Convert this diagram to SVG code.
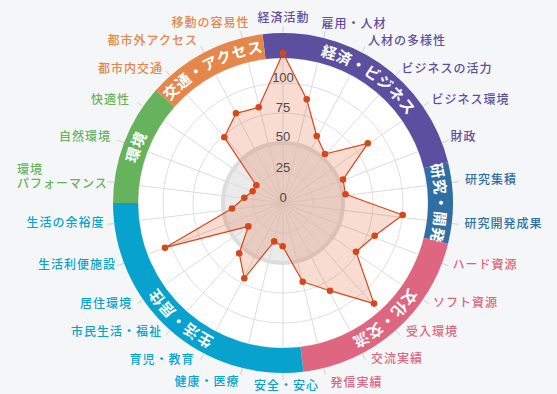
<svg xmlns="http://www.w3.org/2000/svg" width="557" height="394" viewBox="0 0 557 394">
<style>
.grid{fill:none;stroke:#dfdfdf;stroke-width:1}
.spoke{stroke:#dcdcdc;stroke-width:1}
.tick{stroke:#cfcfcf;stroke-width:1}
.scale{font-family:"Liberation Sans",Arial,sans-serif;font-size:13px;fill:#4a4a4a;text-anchor:middle}
.lbl{font-family:"Noto Sans CJK JP","Noto Sans",sans-serif;font-size:12px;font-weight:500;letter-spacing:1px}
.band-t{font-family:"Noto Sans CJK JP","Noto Sans",sans-serif;font-size:15px;font-weight:bold;fill:#ffffff;letter-spacing:0.5px}
.s{text-anchor:start}.e{text-anchor:end}.m{text-anchor:middle}
.econ{fill:#5d4f9f}.rnd{fill:#2f6fa5}.cult{fill:#de6680}.life{fill:#08a2cf}.env{fill:#67b35d}.trans{fill:#e5874b}
.dot{fill:#d4481c}
</style>
<defs>
<path id="pEcon" d="M242.67,56.45 A152,152 0 0 1 434.33,188.74"/>
<path id="pRnd" d="M380.70,86.56 A152,152 0 0 1 380.70,319.44"/>
<path id="pCult" d="M434.95,198.92 A152,152 0 0 1 260.63,353.34"/>
<path id="pLife" d="M305.37,353.34 A152,152 0 0 1 131.05,198.92"/>
<path id="pEnv" d="M150.35,277.22 A152,152 0 0 1 232.93,59.48"/>
<path id="pTrans" d="M134.49,170.60 A152,152 0 0 1 340.70,62.38"/>
</defs>
<rect x="0" y="0" width="557" height="394" fill="#f5f6f8"/>

<g id="grid">
<circle cx="283" cy="203" r="145" fill="#ffffff" stroke="#dddddd" stroke-width="1"/>
<circle cx="283" cy="203" r="60" fill="#ebebeb" stroke="#dcdcdc" stroke-width="4"/>
<circle class="grid" cx="283" cy="203" r="30"/>
<circle class="grid" cx="283" cy="203" r="90"/>
<circle class="grid" cx="283" cy="203" r="120"/>
<g id="spokes">
<line class="spoke" x1="283" y1="58" x2="283" y2="348"/>
<line class="spoke" x1="317.70" y1="62.21" x2="248.30" y2="343.79"/>
<line class="spoke" x1="350.38" y1="74.61" x2="215.62" y2="331.39"/>
<line class="spoke" x1="379.15" y1="94.47" x2="186.85" y2="311.53"/>
<line class="spoke" x1="402.33" y1="120.63" x2="163.67" y2="285.37"/>
<line class="spoke" x1="418.58" y1="151.58" x2="147.42" y2="254.42"/>
<line class="spoke" x1="426.94" y1="185.52" x2="139.06" y2="220.48"/>
<line class="spoke" x1="426.94" y1="220.48" x2="139.06" y2="185.52"/>
<line class="spoke" x1="418.58" y1="254.42" x2="147.42" y2="151.58"/>
<line class="spoke" x1="402.33" y1="285.37" x2="163.67" y2="120.63"/>
<line class="spoke" x1="379.15" y1="311.53" x2="186.85" y2="94.47"/>
<line class="spoke" x1="350.38" y1="331.39" x2="215.62" y2="74.61"/>
<line class="spoke" x1="317.70" y1="343.79" x2="248.30" y2="62.21"/>
</g>
</g>

<g id="bands">
<g id="band-econ"><path class="econ" d="M262.51,34.24 A170,170 0 0 1 448.06,162.32 L423.79,168.30 A145,145 0 0 0 265.52,59.06 Z"/></g>
<g id="band-rnd"><path class="rnd" d="M448.06,162.32 A170,170 0 0 1 448.06,243.68 L423.79,237.70 A145,145 0 0 0 423.79,168.30 Z"/></g>
<g id="band-cult"><path class="cult" d="M448.06,243.68 A170,170 0 0 1 303.49,371.76 L300.48,346.94 A145,145 0 0 0 423.79,237.70 Z"/></g>
<g id="band-life"><path class="life" d="M303.49,371.76 A170,170 0 0 1 113,203 L138,203 A145,145 0 0 0 300.48,346.94 Z"/></g>
<g id="band-env"><path class="env" d="M113,203 A170,170 0 0 1 155.75,90.27 L174.47,106.85 A145,145 0 0 0 138,203 Z"/></g>
<g id="band-trans"><path class="trans" d="M155.75,90.27 A170,170 0 0 1 262.51,34.24 L265.52,59.06 A145,145 0 0 0 174.47,106.85 Z"/></g>
</g>

<g id="ticks">
<line class="tick" x1="283" y1="33" x2="283" y2="26"/>
<line class="tick" x1="323.68" y1="37.94" x2="325.36" y2="31.14"/>
<line class="tick" x1="362.00" y1="52.47" x2="365.26" y2="46.27"/>
<line class="tick" x1="395.73" y1="75.75" x2="400.37" y2="70.51"/>
<line class="tick" x1="422.91" y1="106.43" x2="428.67" y2="102.45"/>
<line class="tick" x1="441.95" y1="142.72" x2="448.50" y2="140.24"/>
<line class="tick" x1="451.76" y1="182.51" x2="458.71" y2="181.66"/>
<line class="tick" x1="451.76" y1="223.49" x2="458.71" y2="224.34"/>
<line class="tick" x1="441.95" y1="263.28" x2="448.50" y2="265.76"/>
<line class="tick" x1="422.91" y1="299.57" x2="428.67" y2="303.55"/>
<line class="tick" x1="395.73" y1="330.25" x2="400.37" y2="335.49"/>
<line class="tick" x1="362.00" y1="353.53" x2="365.26" y2="359.73"/>
<line class="tick" x1="323.68" y1="368.06" x2="325.36" y2="374.86"/>
<line class="tick" x1="283" y1="373" x2="283" y2="380"/>
<line class="tick" x1="242.32" y1="368.06" x2="240.64" y2="374.86"/>
<line class="tick" x1="204.00" y1="353.53" x2="200.74" y2="359.73"/>
<line class="tick" x1="170.27" y1="330.25" x2="165.63" y2="335.49"/>
<line class="tick" x1="143.09" y1="299.57" x2="137.33" y2="303.55"/>
<line class="tick" x1="124.05" y1="263.28" x2="117.50" y2="265.76"/>
<line class="tick" x1="114.24" y1="223.49" x2="107.29" y2="224.34"/>
<line class="tick" x1="114.24" y1="182.51" x2="107.29" y2="181.66"/>
<line class="tick" x1="124.05" y1="142.72" x2="117.50" y2="140.24"/>
<line class="tick" x1="143.09" y1="106.43" x2="137.33" y2="102.45"/>
<line class="tick" x1="170.27" y1="75.75" x2="165.63" y2="70.51"/>
<line class="tick" x1="204.00" y1="52.47" x2="200.74" y2="46.27"/>
<line class="tick" x1="242.32" y1="37.94" x2="240.64" y2="31.14"/>
</g>

<g id="data">
<polygon points="283,53 306.7,99.3 316.7,136 325,154 367.8,143.3 343,179.6 345.5,194.3 402.7,215 374.7,235.7 356,251.7 374,303.6 330,290.7 302.7,281.7 282.7,246.3 274.2,241.4 244.3,278.3 239.2,253.3 248.3,226.4 165,247.7 232,208.5 244.3,197.7 252.7,191.3 256.3,185.2 224.3,137.3 236,113.3 258.7,107.3" fill="#e0602e" fill-opacity="0.22" stroke="#d8461a" stroke-width="1.2" stroke-linejoin="round"/>
<g class="dot">
<circle cx="283" cy="53" r="3.3"/><circle cx="306.7" cy="99.3" r="3.3"/><circle cx="316.7" cy="136" r="3.3"/><circle cx="325" cy="154" r="3.3"/><circle cx="367.8" cy="143.3" r="3.3"/><circle cx="343" cy="179.6" r="3.3"/><circle cx="345.5" cy="194.3" r="3.3"/><circle cx="402.7" cy="215" r="3.3"/><circle cx="374.7" cy="235.7" r="3.3"/><circle cx="356" cy="251.7" r="3.3"/><circle cx="374" cy="303.6" r="3.3"/><circle cx="330" cy="290.7" r="3.3"/><circle cx="302.7" cy="281.7" r="3.3"/><circle cx="282.7" cy="246.3" r="3.3"/><circle cx="274.2" cy="241.4" r="3.3"/><circle cx="244.3" cy="278.3" r="3.3"/><circle cx="239.2" cy="253.3" r="3.3"/><circle cx="248.3" cy="226.4" r="3.3"/><circle cx="165" cy="247.7" r="3.3"/><circle cx="232" cy="208.5" r="3.3"/><circle cx="244.3" cy="197.7" r="3.3"/><circle cx="252.7" cy="191.3" r="3.3"/><circle cx="256.3" cy="185.2" r="3.3"/><circle cx="224.3" cy="137.3" r="3.3"/><circle cx="236" cy="113.3" r="3.3"/><circle cx="258.7" cy="107.3" r="3.3"/>
</g>
</g>

<g id="scale-labels">
<text class="scale" x="283" y="202">0</text>
<text class="scale" x="283" y="171.5">25</text>
<text class="scale" x="283" y="141">50</text>
<text class="scale" x="283" y="112">75</text>
<text class="scale" x="283" y="81.5">100</text>
</g>

<g id="band-labels">
<text class="band-t"><textPath href="#pEcon" startOffset="50%" text-anchor="middle">経済・ビジネス</textPath></text>
<text class="band-t"><textPath href="#pRnd" startOffset="50%" text-anchor="middle">研究・開発</textPath></text>
<text class="band-t"><textPath href="#pCult" startOffset="50%" text-anchor="middle">文化・交流</textPath></text>
<text class="band-t"><textPath href="#pLife" startOffset="50%" text-anchor="middle">生活・居住</textPath></text>
<text class="band-t"><textPath href="#pEnv" startOffset="50%" text-anchor="middle">環境</textPath></text>
<text class="band-t"><textPath href="#pTrans" startOffset="50%" text-anchor="middle">交通・アクセス</textPath></text>
</g>

<g id="axis-labels">
<g id="l-econ" class="econ">
<text class="lbl m" x="283.5" y="21.5">経済活動</text>
<text class="lbl s" x="321.5" y="27.8">雇用・人材</text>
<text class="lbl s" x="368" y="45.2">人材の多様性</text>
<text class="lbl s" x="401.5" y="72.8">ビジネスの活力</text>
<text class="lbl s" x="431.5" y="103.5">ビジネス環境</text>
<text class="lbl s" x="450.5" y="141.2">財政</text>
</g>
<g id="l-rnd" class="rnd">
<text class="lbl s" x="465" y="183.5">研究集積</text>
<text class="lbl s" x="464.5" y="227.5">研究開発成果</text>
</g>
<g id="l-cult" class="cult">
<text class="lbl s" x="452.5" y="268.5">ハード資源</text>
<text class="lbl s" x="433" y="307.2">ソフト資源</text>
<text class="lbl s" x="406" y="336.2">受入環境</text>
<text class="lbl s" x="371" y="362.8">交流実績</text>
<text class="lbl s" x="330.5" y="387.2">発信実績</text>
</g>
<g id="l-life" class="life">
<text class="lbl m" x="286.5" y="390">安全・安心</text>
<text class="lbl e" x="239.5" y="386.2">健康・医療</text>
<text class="lbl e" x="194.5" y="363.5">育児・教育</text>
<text class="lbl e" x="162" y="336.2">市民生活・福祉</text>
<text class="lbl e" x="132" y="307.8">居住環境</text>
<text class="lbl e" x="116" y="268.8">生活利便施設</text>
<text class="lbl e" x="104.5" y="227.2">生活の余裕度</text>
</g>
<g id="l-env" class="env">
<text class="lbl s" x="17" y="173.8">環境</text>
<text class="lbl s" x="17" y="187.8">パフォーマンス</text>
<text class="lbl e" x="111" y="141.2">自然環境</text>
<text class="lbl e" x="130" y="103.5">快適性</text>
</g>
<g id="l-trans" class="trans">
<text class="lbl e" x="163" y="72.8">都市内交通</text>
<text class="lbl e" x="198" y="44.5">都市外アクセス</text>
<text class="lbl e" x="249.5" y="27.2">移動の容易性</text>
</g>
</g>
</svg>
